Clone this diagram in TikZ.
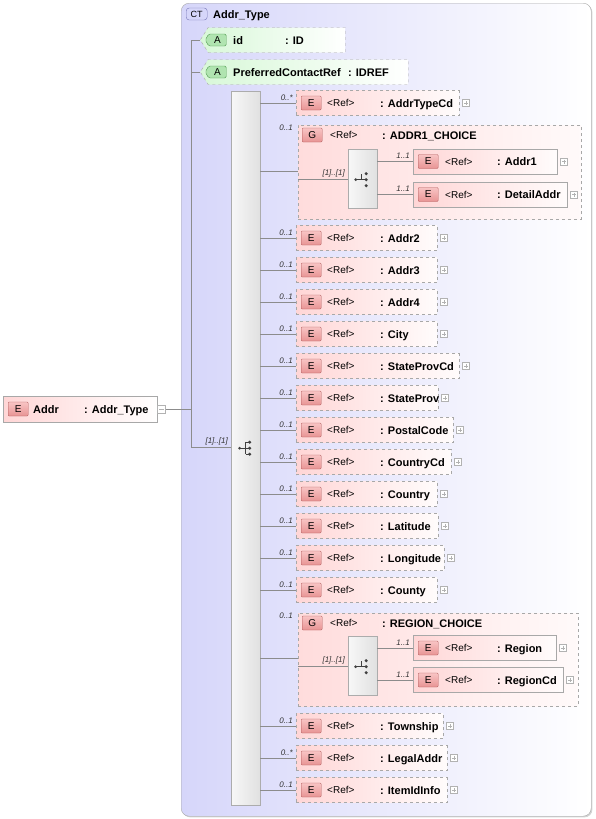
\documentclass[tikz,border=0pt]{standalone}
\usepackage{fontspec}
\setmainfont{Liberation Sans}
\usetikzlibrary{positioning,shapes.symbols,shadows}
\definecolor{ctfill}{HTML}{D6D6FA}
\definecolor{ctline}{HTML}{7878B8}
\definecolor{elemfill}{HTML}{FFD6D6}
\definecolor{groupfill}{HTML}{FFDCDC}
\definecolor{badgetop}{HTML}{F8C4C4}
\definecolor{badgebot}{HTML}{E89494}
\definecolor{badgeline}{HTML}{B05A5A}
\definecolor{attfill}{HTML}{D8F8D8}
\definecolor{attbadge}{HTML}{B0E4B0}
\definecolor{attline}{HTML}{4E9A4E}
\definecolor{boxline}{HTML}{A8A8A8}
\definecolor{wire}{HTML}{8C8C8C}

\begin{document}
\begin{tikzpicture}[x=1pt,y=-1pt,
    wire/.style={draw=wire,line width=0.6pt},
    ctbox/.style={draw=boxline,rounded corners=8pt,left color=ctfill,right color=white,
      drop shadow={shadow xshift=1.2pt,shadow yshift=-1.2pt,opacity=0.35}},
    ctbadge/.style={draw=ctline,rounded corners=3pt,fill=ctfill,minimum width=21pt,minimum height=12pt,
      inner sep=0pt,font=\fontsize{9}{9}\selectfont},
    mainbox/.style={draw=boxline,left color=elemfill,right color=white,minimum height=26pt,inner sep=0pt},
    elembox/.style={draw=boxline,dashed,left color=elemfill,right color=white!92!elemfill,minimum height=25pt,
      inner sep=0pt,anchor=west},
    subbox/.style={draw=boxline,left color=elemfill,right color=white!92!elemfill,minimum height=25pt,
      inner sep=0pt,anchor=west},
    groupbox/.style={draw=boxline,dashed,left color=groupfill,right color=white!85!groupfill,inner sep=0pt},
    badge/.style={draw=badgeline,rounded corners=1pt,top color=badgetop,bottom color=badgebot,
      minimum width=20pt,minimum height=14pt,inner sep=0pt,anchor=west,font=\fontsize{10}{10}\selectfont},
    attbox/.style={shape=signal,signal to=west,signal pointer angle=115,draw=boxline,dashed,
      left color=attfill,right color=white,minimum height=25pt,inner sep=0pt,anchor=west},
    attbadgebox/.style={shape=signal,signal to=west,signal pointer angle=120,draw=attline,fill=attbadge,
      rounded corners=1.5pt,minimum width=21pt,minimum height=12pt,inner sep=0pt,anchor=west,
      font=\fontsize{10}{10}\selectfont},
    seqbar/.style={draw=gray!65,left color=gray!6,right color=gray!24,inner sep=0pt,anchor=north west},
    reftxt/.style={anchor=base west,inner sep=0pt,font=\fontsize{10}{12}\selectfont},
    nametxt/.style={anchor=base west,inner sep=0pt,font=\bfseries\fontsize{11}{12}\selectfont},
    card/.style={anchor=base east,inner sep=0pt,text=black!80,font=\itshape\fontsize{8}{8}\selectfont},
    plusbox/.style={draw=gray!60,fill=white,minimum size=7pt,inner sep=0pt,anchor=west,
      path picture={\draw[gray!60] ([xshift=1.5pt]path picture bounding box.west)--([xshift=-1.5pt]path picture bounding box.east)
        ([yshift=-1.5pt]path picture bounding box.north)--([yshift=1.5pt]path picture bounding box.south);}},
    minusbox/.style={draw=gray!60,fill=white,minimum size=8pt,inner sep=0pt,anchor=west,
      path picture={\draw[gray!60] ([xshift=1.5pt]path picture bounding box.west)--([xshift=-1.5pt]path picture bounding box.east);}}]
  \useasboundingbox (0,0) rectangle (595,819);

  % complex type frame
  \node[ctbox,minimum width=410,minimum height=813,anchor=north west] (ct) at (181,3) {};
  \node[ctbadge,anchor=west] (ctbadge) at (186,14) {CT};
  \node[nametxt] (cttitle) at (213,18) {Addr\_Type};

  % root element
  \node[mainbox,minimum width=154,anchor=west] (addr) at (3,409) {};
  \node[badge] (addrbadge) at (8,409) {E};
  \node[nametxt] (addrname) at (33,413) {Addr};
  \node[nametxt] (addrtype) at (84,413) {: Addr\_Type};
  \node[minusbox] (addrminus) at (addr.east) {};

  % spine
  \coordinate (spinetop) at (191,40);
  \coordinate (spinebot) at (191,447);
  \draw[wire] (spinetop) -- (spinebot);
  \draw[wire] (addrminus.east) -- (addrminus.east -| spinetop);

  % attributes
  \node[attbox,minimum width=145] (attid) at (200,40) {};
  \node[attbadgebox] (attidbadge) at (205,40) {A};
  \node[nametxt] (attidname) at (233,44) {id};
  \node[nametxt] (attidtype) at (285,44) {: ID};
  \node[attbox,minimum width=208] (attref) at (200,72) {};
  \node[attbadgebox] (attrefbadge) at (205,72) {A};
  \node[nametxt] (attrefname) at (233,76) {PreferredContactRef};
  \node[nametxt] (attreftype) at (348,76) {: IDREF};
  \draw[wire] (spinetop) -- (attid.west);
  \draw[wire] (spinetop |- attref.west) -- (attref.west);

  % sequence
  \node[seqbar,minimum width=29,minimum height=714] (seq) at (231,91) {};
  \draw[wire] (spinebot) -- (spinebot -| seq.west);
  \node[card] (seqcard) at (228,443) {[1]..[1]};
  \begin{scope}[shift={(seq.center)},black!75]
    \fill (-6,0) circle (1.5);
    \draw[line width=0.7pt] (-6,0) -- (0,0) (0,-6) -- (0,6);
    \foreach \dy in {-6,0,6} {
      \draw[line width=0.7pt] (0,\dy) -- (3,\dy);
      \fill (4,\dy) circle (1.7);
    }
  \end{scope}

  % simple children
  \foreach \nm/\y/\w/\occ in {AddrTypeCd/103/163/0..*, Addr2/238/141/0..1, Addr3/270/141/0..1,
      Addr4/302/141/0..1, City/334/141/0..1, StateProvCd/366/163/0..1, StateProv/398/142/0..1,
      PostalCode/430/157/0..1, CountryCd/462/155/0..1, Country/494/141/0..1, Latitude/526/142/0..1,
      Longitude/558/148/0..1, County/590/141/0..1, Township/726/147/0..1, LegalAddr/758/151/0..*,
      ItemIdInfo/790/151/0..1} {
    \node[elembox,minimum width=\w] (e\nm) at (296,\y) {};
    \node[badge] (b\nm) at ([xshift=5pt]e\nm.west) {E};
    \node[reftxt] (r\nm) at (327,\y+3.5) {<Ref>};
    \node[nametxt] (n\nm) at (380,\y+4) {: \nm};
    \node[plusbox] (p\nm) at ([xshift=3pt]e\nm.east) {};
    \node[card] (c\nm) at (293,\y-3) {\occ};
    \draw[wire] (seq.east |- e\nm.west) -- (e\nm.west);
  }

  % choice group ADDR1_CHOICE
  \node[groupbox,minimum width=283,minimum height=94,anchor=north west] (gaddr) at (298,125) {};
  \node[badge] (gaddrbadge) at (302,135) {G};
  \node[reftxt] (gaddrref) at (330,138.5) {<Ref>};
  \node[nametxt] (gaddrname) at (382,139) {: ADDR1\_CHOICE};
  \node[card] (gaddrcard) at (293,130) {0..1};
  \coordinate (gaddrin) at (298,171);
  \draw[wire] (seq.east |- gaddrin) -- (gaddrin);
  \node[seqbar,minimum width=29,minimum height=59] (caddr) at (348,149) {};
  \coordinate (caddrin) at (298,179);
  \draw[wire] (caddrin) -- (caddrin -| caddr.west);
  \node[card] (caddrcard) at (345,175) {[1]..[1]};

  % choice group REGION_CHOICE
  \node[groupbox,minimum width=280,minimum height=93,anchor=north west] (greg) at (298,613) {};
  \node[badge] (gregbadge) at (302,623) {G};
  \node[reftxt] (gregref) at (330,626.5) {<Ref>};
  \node[nametxt] (gregname) at (382,627) {: REGION\_CHOICE};
  \node[card] (gregcard) at (293,618) {0..1};
  \coordinate (gregin) at (298,658);
  \draw[wire] (seq.east |- gregin) -- (gregin);
  \node[seqbar,minimum width=29,minimum height=59] (creg) at (348,636) {};
  \coordinate (cregin) at (298,666);
  \draw[wire] (cregin) -- (cregin -| creg.west);
  \node[card] (cregcard) at (345,662) {[1]..[1]};

  % choice icons
  \foreach \cb in {caddr,creg} {
    \begin{scope}[shift={(\cb.center)},black!75]
      \fill (-7,1) circle (1.5);
      \draw[line width=0.7pt] (-7,1) -- (-1,1) (-1,1) -- (-1,-5) (-1,1) -- (2,1);
      \foreach \dy in {-5,1,7} \fill (3.5,\dy) circle (1.7);
    \end{scope}
  }

  % choice children
  \foreach \nm/\cb/\y/\w in {Addr1/caddr/161.5/144, DetailAddr/caddr/194.5/154,
      Region/creg/648/143, RegionCd/creg/680/150} {
    \node[subbox,minimum width=\w] (e\nm) at (413,\y) {};
    \node[badge] (b\nm) at ([xshift=5pt]e\nm.west) {E};
    \node[reftxt] (r\nm) at (445,\y+3.5) {<Ref>};
    \node[nametxt] (n\nm) at (497,\y+4) {: \nm};
    \node[plusbox] (p\nm) at ([xshift=3pt]e\nm.east) {};
    \node[card] (c\nm) at (410,\y-3) {1..1};
    \draw[wire] (\cb.east |- e\nm.west) -- (e\nm.west);
  }
\end{tikzpicture}
\end{document}
